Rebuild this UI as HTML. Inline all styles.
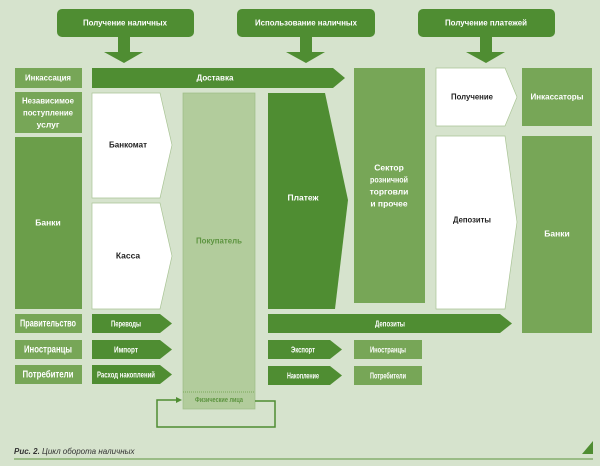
<!DOCTYPE html>
<html><head><meta charset="utf-8"><style>
html,body{margin:0;padding:0;background:#d6e3cd;}
svg{display:block}
text{font-family:"Liberation Sans Narrow","Liberation Sans",sans-serif;font-weight:bold;font-size:8.5px;text-anchor:middle;dominant-baseline:middle}
.w{fill:#fff}.k{fill:#222}
</style></head><body>
<svg width="600" height="466" viewBox="0 0 600 466">
<rect width="600" height="466" fill="#d6e3cd"/>
<g fill="#4f8d32">
<rect x="57" y="9" width="137" height="28" rx="5"/>
<rect x="237" y="9" width="138" height="28" rx="5"/>
<rect x="418" y="9" width="137" height="28" rx="5"/>
<polygon points="118,37 130,37 130,52 143,52 124,63 104,52 118,52"/>
<polygon points="300,37 312,37 312,52 325,52 306,63 286,52 300,52"/>
<polygon points="480,37 492,37 492,52 505,52 486,63 466,52 480,52"/>
</g>
<text x="125" y="23" class="w" textLength="84" lengthAdjust="spacingAndGlyphs">Получение наличных</text>
<text x="306" y="23" class="w" textLength="102" lengthAdjust="spacingAndGlyphs">Использование наличных</text>
<text x="486" y="23" class="w" textLength="82" lengthAdjust="spacingAndGlyphs">Получение платежей</text>
<g fill="#77a657">
<rect x="15" y="68" width="67" height="20"/>
<rect x="15" y="92" width="67" height="41"/>
<rect x="15" y="137" width="67" height="172" fill="#6b9e4a"/>
<rect x="15" y="314" width="67" height="19"/>
<rect x="15" y="340" width="67" height="19"/>
<rect x="15" y="365" width="67" height="19"/>
</g>
<text x="48" y="78" class="w" textLength="46" lengthAdjust="spacingAndGlyphs">Инкассация</text>
<text x="48" y="101" class="w" textLength="52" lengthAdjust="spacingAndGlyphs">Независимое</text>
<text x="48" y="113" class="w" textLength="50" lengthAdjust="spacingAndGlyphs">поступление</text>
<text x="48" y="125" class="w">услуг</text>
<text x="48" y="223" class="w">Банки</text>
<text x="48" y="324" class="w" style="font-size:10px" textLength="56" lengthAdjust="spacingAndGlyphs">Правительство</text>
<text x="48" y="350" class="w" style="font-size:10px" textLength="48" lengthAdjust="spacingAndGlyphs">Иностранцы</text>
<text x="48" y="375" class="w" style="font-size:10px" textLength="51" lengthAdjust="spacingAndGlyphs">Потребители</text>
<polygon points="92,68 333,68 345,78 333,88 92,88" fill="#4f8d32"/>
<text x="215" y="78" class="w" textLength="37" lengthAdjust="spacingAndGlyphs">Доставка</text>
<g fill="#fff" stroke="#a9c495" stroke-width="0.7">
<polygon points="92,93 160,93 172,145 160,198 92,198"/>
<polygon points="92,203 160,203 172,256 160,309 92,309"/>
<polygon points="436,68 505,68 517,97 505,126 436,126"/>
<polygon points="436,136 505,136 517,222 505,309 436,309"/>
</g>
<text x="128" y="145" class="k" textLength="38" lengthAdjust="spacingAndGlyphs">Банкомат</text>
<text x="128" y="256" class="k">Касса</text>
<text x="472" y="97" class="k" textLength="42" lengthAdjust="spacingAndGlyphs">Получение</text>
<text x="472" y="220" class="k" textLength="38" lengthAdjust="spacingAndGlyphs">Депозиты</text>
<rect x="183" y="93" width="72" height="316" fill="#b2cc9c" stroke="#9dbd85" stroke-width="0.7"/>
<line x1="183" y1="392" x2="255" y2="392" stroke="#7aa75a" stroke-dasharray="1,1"/>
<text x="219" y="241" style="fill:#5d9440" textLength="46" lengthAdjust="spacingAndGlyphs">Покупатель</text>
<text x="219" y="400" style="fill:#5d9440;font-size:7px" textLength="48" lengthAdjust="spacingAndGlyphs">Физические лица</text>
<polyline points="255,401 275,401 275,427 157,427 157,400 176,400" fill="none" stroke="#4f8d32" stroke-width="1.5"/>
<polygon points="176,397 182,400 176,403" fill="#4f8d32"/>
<polygon points="268,93 325,93 348,200 335,309 268,309" fill="#4f8d32"/>
<text x="303" y="198" class="w">Платеж</text>
<rect x="354" y="68" width="71" height="235" fill="#77a657"/>
<text x="389" y="168" class="w">Сектор</text>
<text x="389" y="180" class="w" textLength="38" lengthAdjust="spacingAndGlyphs">розничной</text>
<text x="389" y="192" class="w">торговли</text>
<text x="389" y="204" class="w">и прочее</text>
<rect x="522" y="68" width="70" height="58" fill="#77a657"/>
<rect x="522" y="136" width="70" height="197" fill="#77a657"/>
<text x="557" y="97" class="w" textLength="53" lengthAdjust="spacingAndGlyphs">Инкассаторы</text>
<text x="557" y="234" class="w">Банки</text>
<g fill="#4f8d32">
<polygon points="92,314 160,314 172,323.5 160,333 92,333"/>
<polygon points="92,340 160,340 172,349.5 160,359 92,359"/>
<polygon points="92,365 160,365 172,374.5 160,384 92,384"/>
<polygon points="268,314 500,314 512,323.5 500,333 268,333"/>
<polygon points="268,340 330,340 342,349.5 330,359 268,359"/>
<polygon points="268,366 330,366 342,375.5 330,385 268,385"/>
</g>
<g fill="#77a657">
<rect x="354" y="340" width="68" height="19"/>
<rect x="354" y="366" width="68" height="19"/>
</g>
<g style="font-size:7px">
<text x="126" y="324" class="w" textLength="30" lengthAdjust="spacingAndGlyphs">Переводы</text>
<text x="126" y="350" class="w" textLength="24" lengthAdjust="spacingAndGlyphs">Импорт</text>
<text x="126" y="375" class="w" textLength="58" lengthAdjust="spacingAndGlyphs">Расход накоплений</text>
<text x="390" y="324" class="w" textLength="30" lengthAdjust="spacingAndGlyphs">Депозиты</text>
<text x="303" y="350" class="w" textLength="24" lengthAdjust="spacingAndGlyphs">Экспорт</text>
<text x="303" y="376" class="w" textLength="32" lengthAdjust="spacingAndGlyphs">Накопление</text>
<text x="388" y="350" class="w" textLength="36" lengthAdjust="spacingAndGlyphs">Иностранцы</text>
<text x="388" y="376" class="w" textLength="36" lengthAdjust="spacingAndGlyphs">Потребители</text>
</g>
<text x="14" y="452" style="text-anchor:start;font-family:'Liberation Sans',sans-serif;font-weight:normal;font-style:italic;font-size:8px;fill:#333"><tspan style="font-weight:bold">Рис. 2.</tspan> Цикл оборота наличных</text>
<line x1="14" y1="459" x2="593" y2="459" stroke="#5d9440" stroke-width="1"/>
<polygon points="593,441 593,454 582,454" fill="#4f8d32"/>
</svg>
</body></html>
